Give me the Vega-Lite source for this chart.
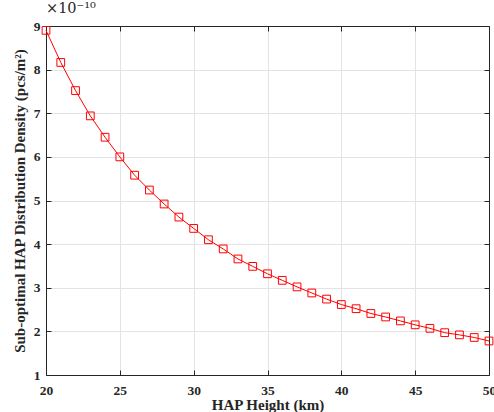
{
  "$schema": "https://vega.github.io/schema/vega-lite/v6.json",
  "autosize": {"type": "none"},
  "width": 443,
  "height": 349,
  "padding": {"left": 46, "top": 26, "right": 5, "bottom": 37},
  "background": "white",
  "title": {"text": "×10⁻¹⁰", "anchor": "start", "frame": "group", "offset": 3, "font": "DejaVu Serif", "fontSize": 14.5, "fontWeight": "normal", "color": "#262626"},
  "config": {
    "view": {"stroke": null},
    "axis": {
      "labelFont": "Liberation Serif", "labelFontSize": 13.5, "labelFontWeight": "bold", "labelColor": "#262626", "labelFlush": false,
      "titleFont": "Liberation Serif", "titleFontSize": 15, "titleFontWeight": "bold", "titleColor": "#262626",
      "domainColor": "#262626", "tickColor": "#262626", "tickSize": -5, "gridColor": "#e3e3e3", "gridOpacity": 1
    }
  },
  "data": {"values": [
    {"h": 20, "d": 8.90}, {"h": 21, "d": 8.165}, {"h": 22, "d": 7.52}, {"h": 23, "d": 6.94},
    {"h": 24, "d": 6.45}, {"h": 25, "d": 6.00}, {"h": 26, "d": 5.58}, {"h": 27, "d": 5.24},
    {"h": 28, "d": 4.92}, {"h": 29, "d": 4.62}, {"h": 30, "d": 4.36}, {"h": 31, "d": 4.10},
    {"h": 32, "d": 3.89}, {"h": 33, "d": 3.66}, {"h": 34, "d": 3.49}, {"h": 35, "d": 3.32},
    {"h": 36, "d": 3.17}, {"h": 37, "d": 3.02}, {"h": 38, "d": 2.88}, {"h": 39, "d": 2.74},
    {"h": 40, "d": 2.615}, {"h": 41, "d": 2.52}, {"h": 42, "d": 2.41}, {"h": 43, "d": 2.33},
    {"h": 44, "d": 2.24}, {"h": 45, "d": 2.15}, {"h": 46, "d": 2.07}, {"h": 47, "d": 1.97},
    {"h": 48, "d": 1.92}, {"h": 49, "d": 1.86}, {"h": 50, "d": 1.78}
  ]},
  "resolve": {"axis": {"x": "independent", "y": "independent"}},
  "layer": [
    {
      "mark": {"type": "line", "color": "#ff0000", "strokeWidth": 1},
      "encoding": {
        "x": {"field": "h", "type": "quantitative", "scale": {"domain": [20, 50], "nice": false, "zero": false},
              "axis": {"orient": "bottom", "values": [20, 25, 30, 35, 40, 45, 50], "grid": true, "title": "HAP Height (km)", "labelPadding": 13, "titlePadding": 1}},
        "y": {"field": "d", "type": "quantitative", "scale": {"domain": [1, 9], "nice": false, "zero": false},
              "axis": {"orient": "left", "values": [1, 2, 3, 4, 5, 6, 7, 8, 9], "grid": true, "title": "Sub-optimal HAP Distribution Density (pcs/m²)", "labelPadding": 11, "titlePadding": 6}}
      }
    },
    {
      "mark": {"type": "point", "shape": "square", "filled": false, "color": "#ff0000", "size": 60, "strokeWidth": 1, "opacity": 1},
      "encoding": {
        "x": {"field": "h", "type": "quantitative",
              "axis": {"orient": "top", "values": [20, 25, 30, 35, 40, 45, 50], "grid": false, "labels": false, "title": null}},
        "y": {"field": "d", "type": "quantitative",
              "axis": {"orient": "right", "values": [1, 2, 3, 4, 5, 6, 7, 8, 9], "grid": false, "labels": false, "title": null}}
      }
    }
  ]
}
